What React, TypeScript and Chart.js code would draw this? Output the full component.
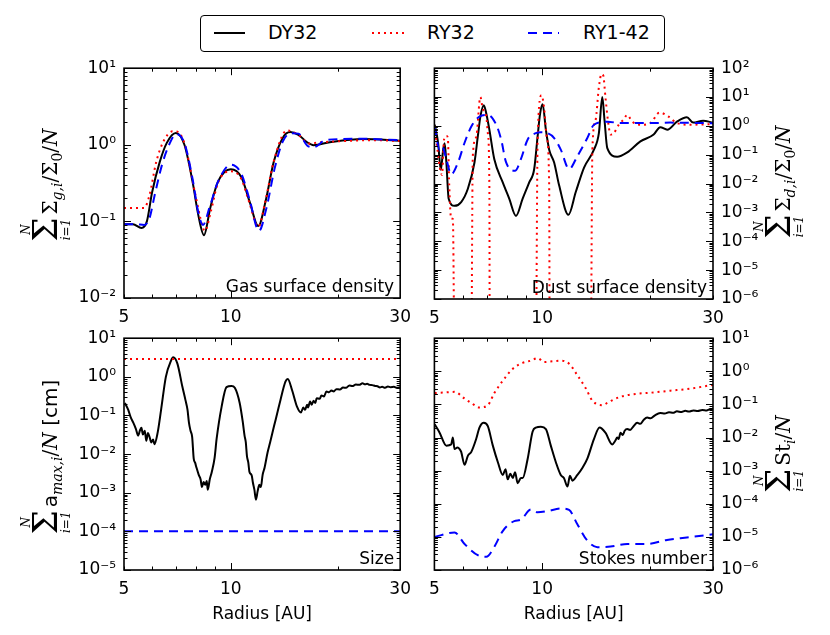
import { useEffect, useRef } from "react";
import { Chart, registerables } from "chart.js";

Chart.register(...registerables);

// ---- shared axis settings ----
const xTicks = [5, 6, 7, 8, 9, 10, 20, 30];
const xTickLabels = [5, 10, 30];
const seriesNames = ["DY32", "RY32", "RY1-42"];

// ---- gas surface density ----
const gasDyR = [5.0, 5.3, 5.6, 5.8, 6.0, 6.3, 6.6, 7.0, 7.4, 7.8, 8.1, 8.4, 8.75, 9.2, 10.0, 10.7, 11.3, 11.95, 12.55, 13.2, 14.0, 14.7, 15.5, 16.4, 17.1, 19.0, 23.5, 30.0];
const gasDy = [0.092, 0.092, 0.082, 0.1, 0.24, 0.59, 1.06, 1.43, 1.0, 0.33, 0.12, 0.066, 0.15, 0.33, 0.48, 0.38, 0.18, 0.087, 0.19, 0.59, 1.23, 1.47, 1.35, 1.08, 0.99, 1.08, 1.19, 1.13];
const gasRyR = [5.0, 5.5, 5.7, 5.9, 6.16, 6.43, 6.85, 7.0, 7.4, 7.95, 8.3, 8.45, 8.8, 9.2, 10.0, 10.7, 11.3, 11.95, 12.5, 13.2, 14.4, 15.5, 16.6, 18.0, 21.0, 25.0, 30.0];
const gasRy = [0.15, 0.15, 0.15, 0.22, 0.59, 1.06, 1.5, 1.5, 1.05, 0.22, 0.09, 0.075, 0.14, 0.32, 0.45, 0.36, 0.17, 0.085, 0.18, 0.6, 1.54, 1.35, 1.04, 1.08, 1.12, 1.15, 1.12];
const gasRy142R = [5.0, 5.4, 5.7, 5.9, 6.1, 6.4, 6.7, 7.0, 7.4, 7.8, 8.1, 8.35, 8.7, 9.2, 10.0, 10.7, 11.3, 12.0, 12.6, 13.3, 14.0, 14.8, 15.5, 16.4, 17.1, 18.5, 23.0, 30.0];
const gasRy142 = [0.092, 0.092, 0.09, 0.11, 0.22, 0.55, 1.0, 1.38, 1.05, 0.36, 0.13, 0.09, 0.15, 0.33, 0.55, 0.42, 0.19, 0.075, 0.15, 0.5, 1.1, 1.42, 1.4, 0.98, 0.93, 1.15, 1.2, 1.15];

// ---- dust surface density ----
const dustDyR = [5.01, 5.12, 5.21, 5.29, 5.34, 5.4, 5.48, 5.69, 5.94, 6.2, 6.47, 6.61, 6.72, 6.87, 6.98, 7.12, 7.35, 7.76, 8.09, 8.45, 8.82, 9.2, 9.5, 9.71, 9.87, 10.03, 10.24, 10.46, 10.8, 11.15, 11.84, 12.41, 13.09, 13.95, 14.4, 14.72, 14.93, 15.2, 16.2, 17.28, 18.81, 20.48, 21.37, 22.36, 23.79, 25.36, 26.4, 28.15, 30.0];
const dustDy = [1.1, 0.26, 0.03, 0.15, 0.25, 0.054, 0.003, 0.0017, 0.0023, 0.0066, 0.054, 0.43, 2.1, 5.2, 2.7, 0.74, 0.07, 0.011, 0.003, 0.00076, 0.003, 0.011, 0.032, 0.43, 2.7, 5.6, 0.74, 0.15, 0.054, 0.0087, 0.00083, 0.0051, 0.036, 0.15, 0.56, 10, 1.6, 0.17, 0.085, 0.12, 0.29, 0.5, 0.9, 0.74, 1.4, 2.0, 1.3, 1.5, 1.3];
const dustRyR = [5.01, 5.06, 5.17, 5.25, 5.32, 5.4, 5.45, 5.5, 5.57, 5.63, 5.7, 6.33, 6.4, 6.54, 6.72, 6.82, 6.98, 7.05, 7.12, 7.14, 9.59, 9.71, 9.96, 10.13, 10.3, 10.46, 10.5, 13.65, 13.81, 14.1, 14.4, 14.65, 14.81, 15.02, 15.26, 15.52, 15.85, 16.37, 16.9, 17.28, 17.84, 18.81, 20.05, 21.28, 22.54, 23.79, 25.9, 30.0];
const dustRy = [1.0, 0.34, 0.04, 0.02, 0.34, 0.45, 0.4, 0.0087, 0.0006, 0.0006, 1e-9, 1e-9, 0.09, 0.4, 10, 4, 2.1, 0.56, 0.0087, 1e-9, 1e-9, 0.3, 11.5, 4, 0.4, 0.0087, 1e-9, 1e-9, 0.15, 1.6, 22, 63, 56, 10, 1.6, 0.5, 0.56, 1.1, 1.7, 2.4, 1.4, 1.1, 1.25, 2.9, 2.1, 1.25, 1.1, 1.15];
const dustRy142R = [5.01, 5.17, 5.25, 5.4, 5.57, 5.82, 6.07, 6.34, 6.68, 7.05, 7.44, 7.68, 7.93, 8.41, 8.72, 9.11, 9.6, 9.92, 10.35, 10.8, 11.27, 11.89, 12.54, 13.37, 13.95, 15.2, 16.55, 18.42, 20.48, 22.79, 25.36, 30.0];
const dustRy142 = [0.95, 0.15, 0.2, 0.07, 0.021, 0.054, 0.26, 0.95, 2.1, 2.4, 1.1, 0.34, 0.054, 0.028, 0.07, 0.34, 0.56, 0.6, 0.56, 0.38, 0.15, 0.032, 0.09, 0.38, 1.1, 1.4, 1.25, 1.25, 1.25, 1.3, 1.28, 1.24];

// ---- maximum grain size ----
const sizeDyR = [5.03, 5.14, 5.22, 5.31, 5.4, 5.48, 5.55, 5.6, 5.65, 5.72, 5.78, 5.84, 5.9, 5.97, 6.04, 6.09, 6.22, 6.36, 6.56, 6.78, 6.88, 7.07, 7.3, 7.45, 7.55, 7.62, 7.7, 7.78, 7.86, 7.93, 8.0, 8.12, 8.22, 8.29, 8.38, 8.47, 8.55, 8.61, 8.72, 8.84, 9.0, 9.12, 9.42, 9.72, 10.04, 10.26, 10.59, 10.8, 10.93, 11.02, 11.1, 11.2, 11.28, 11.45, 11.53, 11.65, 11.77, 11.9, 12.03, 12.15, 12.29, 12.45, 12.69, 12.9, 13.24, 13.5, 13.81, 14.25, 14.47, 14.88, 15.36, 15.76, 16.0, 16.19, 16.4, 16.5, 16.72, 16.9, 17.1, 17.3, 17.45, 17.8, 18.0, 18.3, 18.59, 18.9, 19.2, 19.5, 19.82, 20.3, 20.7, 21.1, 21.58, 22.0, 22.5, 23.0, 23.49, 23.9, 24.2, 24.6, 25.04, 25.5, 25.9, 26.3, 26.69, 27.2, 27.7, 28.2, 28.8, 29.4, 30.0];
const sizeDy = [0.21, 0.14, 0.09, 0.065, 0.045, 0.03, 0.042, 0.048, 0.032, 0.04, 0.022, 0.035, 0.028, 0.02, 0.024, 0.018, 0.036, 0.14, 1.0, 2.6, 3.2, 2.2, 0.56, 0.25, 0.14, 0.065, 0.04, 0.028, 0.0076, 0.006, 0.0045, 0.0029, 0.0022, 0.0014, 0.0019, 0.0016, 0.002, 0.0012, 0.0022, 0.0035, 0.008, 0.025, 0.17, 0.54, 0.58, 0.52, 0.21, 0.07, 0.03, 0.02, 0.009, 0.006, 0.0035, 0.0028, 0.0019, 0.0012, 0.00066, 0.0011, 0.0016, 0.0014, 0.0029, 0.0045, 0.011, 0.02, 0.054, 0.11, 0.26, 0.75, 0.88, 0.45, 0.17, 0.12, 0.16, 0.14, 0.19, 0.16, 0.23, 0.19, 0.24, 0.21, 0.28, 0.27, 0.33, 0.31, 0.42, 0.4, 0.44, 0.42, 0.48, 0.47, 0.53, 0.52, 0.6, 0.58, 0.63, 0.62, 0.68, 0.64, 0.66, 0.62, 0.61, 0.58, 0.57, 0.53, 0.55, 0.52, 0.56, 0.54, 0.55, 0.52, 0.53];
const sizeRyR = [5.0, 30.0];
const sizeRy = [2.9, 2.9];
const sizeRy142R = [5.0, 30.0];
const sizeRy142 = [1e-4, 1e-4];

// ---- Stokes number ----
const stDyR = [5.01, 5.17, 5.4, 5.57, 5.63, 5.69, 5.8, 5.88, 5.94, 6.07, 6.2, 6.34, 6.54, 6.68, 6.87, 7.05, 7.28, 7.52, 7.76, 7.9, 8.01, 8.15, 8.28, 8.4, 8.54, 8.72, 8.82, 9.11, 9.4, 9.6, 9.92, 10.24, 10.57, 10.92, 11.27, 11.5, 11.77, 11.95, 12.15, 12.54, 12.95, 13.37, 13.95, 14.46, 15.02, 15.69, 16.0, 16.2, 16.35, 16.55, 16.8, 17.0, 17.28, 17.6, 18.0, 18.42, 18.8, 19.2, 19.64, 20.1, 20.6, 21.37, 22.0, 22.6, 23.2, 23.79, 24.5, 25.1, 25.7, 26.45, 27.2, 28.0, 28.8, 29.4, 30.0];
const stDy = [0.025, 0.014, 0.0057, 0.0062, 0.01, 0.0045, 0.005, 0.0045, 0.0037, 0.0015, 0.0028, 0.0037, 0.009, 0.02, 0.028, 0.022, 0.0057, 0.0018, 0.00074, 0.0011, 0.00055, 0.0008, 0.0006, 0.0009, 0.00042, 0.0006, 0.0006, 0.0023, 0.015, 0.02, 0.021, 0.018, 0.0057, 0.0018, 0.00074, 0.0006, 0.00033, 0.0007, 0.0005, 0.00074, 0.0012, 0.0023, 0.009, 0.02, 0.014, 0.0062, 0.008, 0.01, 0.009, 0.014, 0.012, 0.016, 0.018, 0.017, 0.022, 0.028, 0.026, 0.034, 0.04, 0.038, 0.046, 0.055, 0.053, 0.058, 0.056, 0.062, 0.059, 0.064, 0.061, 0.066, 0.063, 0.068, 0.066, 0.071, 0.07];
const stRyR = [5.01, 5.34, 5.69, 6.07, 6.34, 6.68, 7.05, 7.35, 7.84, 8.28, 8.82, 9.3, 9.71, 10.13, 10.69, 11.27, 11.89, 12.54, 13.23, 13.81, 14.72, 15.36, 16.55, 18.42, 20.48, 22.79, 25.36, 30.0];
const stRy = [0.22, 0.23, 0.24, 0.15, 0.11, 0.081, 0.095, 0.22, 0.6, 1.2, 1.8, 2.1, 2.5, 1.9, 2.0, 2.1, 1.7, 0.76, 0.31, 0.13, 0.095, 0.12, 0.17, 0.21, 0.23, 0.26, 0.29, 0.39];
const stRy142R = [5.01, 5.69, 6.07, 6.61, 6.98, 7.35, 7.76, 8.36, 8.72, 9.3, 9.71, 10.35, 11.27, 11.89, 12.54, 13.37, 14.26, 15.52, 17.28, 19.64, 22.32, 25.36, 30.0];
const stRy142 = [1.0e-5, 1.35e-5, 6.1e-6, 2.8e-6, 2.5e-6, 5e-6, 1.5e-5, 3e-5, 3.3e-5, 6.7e-5, 5.5e-5, 6e-5, 7.2e-5, 6.5e-5, 2.4e-5, 7.7e-6, 4.9e-6, 5.1e-6, 6.1e-6, 6.1e-6, 8.1e-6, 9.6e-6, 1.2e-5];

const styles = [
  { color: "#000000", dash: [] as number[], width: 2 },
  { color: "#ff0000", dash: [2, 4], width: 2 },
  { color: "#0000ff", dash: [9, 6], width: 2 },
];

const SUP: Record<string, string> = {
  "-": "\u207B", "0": "\u2070", "1": "\u00B9", "2": "\u00B2", "3": "\u00B3",
  "4": "\u2074", "5": "\u2075", "6": "\u2076", "7": "\u2077", "8": "\u2078", "9": "\u2079",
};
const pow10Label = (e: number) => "10" + String(e).split("").map((c) => SUP[c]).join("");

const isDecade = (v: number) => Math.abs(Math.log10(v) - Math.round(Math.log10(v))) < 1e-6;

// tick marks pointing inwards on all four sides + frame
const frameTicks = {
  id: "frameTicks",
  afterDatasetsDraw(chart: any) {
    const { ctx, chartArea: a, scales } = chart;
    ctx.save();
    ctx.strokeStyle = "#000";
    ctx.lineWidth = 1;
    ctx.beginPath();
    scales.x.ticks.forEach((t: any) => {
      const px = Math.round(scales.x.getPixelForValue(t.value)) + 0.5;
      const len = t.value === 10 ? 7 : 3.5;
      ctx.moveTo(px, a.bottom);
      ctx.lineTo(px, a.bottom - len);
      ctx.moveTo(px, a.top);
      ctx.lineTo(px, a.top + len);
    });
    scales.y.ticks.forEach((t: any) => {
      const py = Math.round(scales.y.getPixelForValue(t.value)) + 0.5;
      const len = isDecade(t.value) ? 7 : 3.5;
      ctx.moveTo(a.left, py);
      ctx.lineTo(a.left + len, py);
      ctx.moveTo(a.right, py);
      ctx.lineTo(a.right - len, py);
    });
    ctx.stroke();
    ctx.lineWidth = 1.6;
    ctx.strokeRect(a.left, a.top, a.right - a.left, a.bottom - a.top);
    ctx.restore();
  },
};

const cornerLabel = {
  id: "cornerLabel",
  afterDraw(chart: any, _args: any, opts: any) {
    const { ctx, chartArea: a } = chart;
    ctx.save();
    ctx.font = "17px 'DejaVu Sans'";
    ctx.fillStyle = "#000";
    ctx.textAlign = "right";
    ctx.textBaseline = "alphabetic";
    ctx.fillText(opts.text, a.right - 6, a.bottom - 6);
    ctx.restore();
  },
};

type PanelProps = {
  x: number; y: number; w: number; h: number;
  pad: { top: number; left: number; right: number };
  axisW: number; axisH: number;
  yMin: number; yMax: number; yPos: "left" | "right";
  corner: string; xTitle?: string;
  series: { r: number[]; v: number[] }[];
};

function Panel(p: PanelProps) {
  const canvasRef = useRef<HTMLCanvasElement | null>(null);

  useEffect(() => {
    if (!canvasRef.current) return;
    const eMin = Math.round(Math.log10(p.yMin));
    const eMax = Math.round(Math.log10(p.yMax));
    const yTicks: number[] = [];
    for (let e = eMin; e <= eMax; e++) {
      yTicks.push(Math.pow(10, e));
      if (e < eMax) for (let m = 2; m <= 9; m++) yTicks.push(m * Math.pow(10, e));
    }
    const font = { family: "'DejaVu Sans'", size: 17 };

    const chart = new Chart(canvasRef.current, {
      type: "line",
      data: {
        datasets: p.series.map((s, i) => ({
          label: seriesNames[i],
          data: s.r.map((x, k) => ({ x, y: s.v[k] })),
          borderColor: styles[i].color,
          borderDash: styles[i].dash,
          borderWidth: styles[i].width,
          pointRadius: 0,
          cubicInterpolationMode: "monotone" as const,
          fill: false,
          order: 3 - i,
        })),
      },
      options: {
        responsive: false,
        animation: false,
        layout: { padding: { top: p.pad.top, left: p.pad.left, right: p.pad.right, bottom: 0 } },
        plugins: {
          legend: { display: false },
          tooltip: { enabled: false },
          // @ts-ignore
          cornerLabel: { text: p.corner },
        },
        scales: {
          x: {
            type: "logarithmic",
            min: 5,
            max: 30,
            afterBuildTicks: (s: any) => {
              s.ticks = xTicks.map((value) => ({ value }));
            },
            afterFit: (s: any) => {
              s.height = p.axisH;
            },
            grid: { display: false, drawTicks: false },
            border: { display: false },
            ticks: {
              autoSkip: false,
              maxRotation: 0,
              minRotation: 0,
              padding: 9,
              color: "#000",
              font,
              callback: (v: any) => (xTickLabels.includes(Number(v)) ? String(v) : ""),
            },
            title: {
              display: !!p.xTitle,
              text: p.xTitle || "",
              color: "#000",
              font,
              padding: { top: 4, bottom: 10 },
            },
          },
          y: {
            type: "logarithmic",
            position: p.yPos,
            min: p.yMin,
            max: p.yMax,
            afterBuildTicks: (s: any) => {
              s.ticks = yTicks.map((value) => ({ value }));
            },
            afterFit: (s: any) => {
              s.width = p.axisW;
            },
            grid: { display: false, drawTicks: false },
            border: { display: false },
            ticks: {
              autoSkip: false,
              padding: 8,
              color: "#000",
              font,
              callback: (v: any) => (isDecade(Number(v)) ? pow10Label(Math.round(Math.log10(Number(v)))) : ""),
            },
          },
        },
      },
      plugins: [frameTicks, cornerLabel],
    });

    return () => chart.destroy();
  }, []);

  return (
    <canvas
      ref={canvasRef}
      width={p.w}
      height={p.h}
      style={{ position: "absolute", left: p.x, top: p.y }}
    />
  );
}

const limitStyle = { fontSize: 12, fontStyle: "italic" as const, lineHeight: "12px", height: 12 };
const subStyle = { fontSize: 14, fontStyle: "italic" as const, verticalAlign: -5 };

// rotated y-axis title: a big sum with limits N and i=1, then the summand
function SumTitle({ cx, cy, children }: { cx: number; cy: number; children: any }) {
  return (
    <div
      style={{
        position: "absolute",
        left: cx,
        top: cy,
        width: "max-content",
        transform: "translate(-50%, -50%) rotate(-90deg)",
        whiteSpace: "nowrap",
        fontFamily: "'DejaVu Serif', serif",
        fontSize: 20,
        display: "flex",
        alignItems: "center",
        color: "#000",
      }}
    >
      <span style={{ display: "flex", flexDirection: "column", alignItems: "center", marginRight: 3 }}>
        <span style={limitStyle}>N</span>
        <span style={{ fontSize: 34, lineHeight: "26px", height: 26, marginBottom: 2 }}>Σ</span>
        <span style={limitStyle}>i=1</span>
      </span>
      <span style={{ position: "relative", top: 5 }}>{children}</span>
    </div>
  );
}

function Legend() {
  const y = 17;
  return (
    <div
      style={{
        position: "absolute",
        left: 200,
        top: 15,
        width: 463,
        height: 35,
        border: "1.5px solid #000",
        borderRadius: 4,
        fontFamily: "'DejaVu Sans', sans-serif",
        fontSize: 19,
        color: "#000",
      }}
    >
      <svg width={463} height={35} style={{ position: "absolute", left: 0, top: 0 }}>
        <line x1={13} x2={44} y1={y} y2={y} stroke="#000" strokeWidth={2} />
        <line x1={171} x2={203} y1={y} y2={y} stroke="#f00" strokeWidth={2} strokeDasharray="2 4" />
        <line x1={327} x2={358} y1={y} y2={y} stroke="#00f" strokeWidth={2} strokeDasharray="9 6" />
      </svg>
      <span style={{ position: "absolute", left: 67, top: 5 }}>{seriesNames[0]}</span>
      <span style={{ position: "absolute", left: 226, top: 5 }}>{seriesNames[1]}</span>
      <span style={{ position: "absolute", left: 382, top: 5 }}>{seriesNames[2]}</span>
    </div>
  );
}

export default function App() {
  return (
    <div style={{ position: "fixed", left: 0, top: 0, width: 830, height: 635, background: "#fff", overflow: "hidden" }}>
      <Legend />
      <Panel
        x={0} y={50} w={420} h={285}
        pad={{ top: 14, left: 0, right: 15 }} axisW={124} axisH={37}
        yMin={1e-2} yMax={1e1} yPos="left" corner="Gas surface density"
        series={[{ r: gasDyR, v: gasDy }, { r: gasRyR, v: gasRy }, { r: gasRy142R, v: gasRy142 }]}
      />
      <Panel
        x={420} y={50} w={410} h={285}
        pad={{ top: 14, left: 13, right: 0 }} axisW={117} axisH={36}
        yMin={1e-6} yMax={1e2} yPos="right" corner="Dust surface density"
        series={[{ r: dustDyR, v: dustDy }, { r: dustRyR, v: dustRy }, { r: dustRy142R, v: dustRy142 }]}
      />
      <Panel
        x={0} y={320} w={420} h={315}
        pad={{ top: 14, left: 0, right: 15 }} axisW={124} axisH={65}
        yMin={1e-5} yMax={1e1} yPos="left" corner="Size" xTitle="Radius [AU]"
        series={[{ r: sizeDyR, v: sizeDy }, { r: sizeRyR, v: sizeRy }, { r: sizeRy142R, v: sizeRy142 }]}
      />
      <Panel
        x={420} y={320} w={410} h={315}
        pad={{ top: 14, left: 13, right: 0 }} axisW={117} axisH={65}
        yMin={1e-6} yMax={1e1} yPos="right" corner="Stokes number" xTitle="Radius [AU]"
        series={[{ r: stDyR, v: stDy }, { r: stRyR, v: stRy }, { r: stRy142R, v: stRy142 }]}
      />
      <SumTitle cx={46} cy={185}>
        Σ<span style={subStyle}>g,i</span>/Σ<span style={{ ...subStyle, fontStyle: "normal" }}>0</span>/<i>N</i>
      </SumTitle>
      <SumTitle cx={779} cy={182}>
        Σ<span style={subStyle}>d,i</span>/Σ<span style={{ ...subStyle, fontStyle: "normal" }}>0</span>/<i>N</i>
      </SumTitle>
      <SumTitle cx={46} cy={457}>
        <span style={{ fontFamily: "'DejaVu Sans', sans-serif" }}>a</span>
        <span style={subStyle}>max,i</span>/<i>N</i>
        <span style={{ fontFamily: "'DejaVu Sans', sans-serif" }}> [cm]</span>
      </SumTitle>
      <SumTitle cx={779} cy={454}>
        St<span style={subStyle}>i</span>/<i>N</i>
      </SumTitle>
    </div>
  );
}
